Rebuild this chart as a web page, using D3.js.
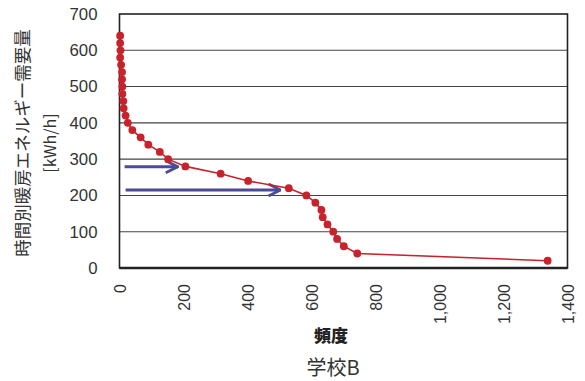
<!DOCTYPE html>
<meta charset="utf-8">
<style>
body { margin: 0; background: #fff; }
svg { font-family: "Liberation Sans", Arial, sans-serif; }
.jp { font-family: "Noto Sans CJK JP", sans-serif; }
</style>
<svg id="chart" width="585" height="381"></svg>
<script src="https://cdn.jsdelivr.net/npm/d3@7"></script>
<script>
// frequency (hours) vs hourly heating demand
var freq   = [2, 2, 3, 2, 5, 8, 8, 9, 9, 12, 13, 19, 26, 40, 66, 90, 126, 152, 206, 316, 402, 529, 584, 612, 631, 635, 650, 668, 680, 701, 743, 1338];
var demand = [640, 620, 600, 580, 560, 540, 520, 500, 480, 460, 440, 420, 400, 380, 360, 340, 320, 300, 280, 260, 240, 220, 200, 180, 160, 140, 120, 100, 80, 60, 40, 20];
var yTicks = [0, 100, 200, 300, 400, 500, 600, 700];
var xTicks = [0, 200, 400, 600, 800, 1000, 1200, 1400];
// annotation arrows: start, end, level
var arrowFrom  = [16, 19];
var arrowTo    = [182, 503];
var arrowLevel = [279, 215];

var svg = d3.select("#chart");
var plotL = 119.5, plotR = 567.5, plotT = 14, plotB = 268;

var x = d3.scaleLinear().domain([0, 1400]).range([plotL, plotR]);
var y = d3.scaleLinear().domain([0, 700]).range([plotB, plotT]);

// horizontal gridlines
svg.append("g").selectAll("line")
    .data(yTicks.slice(1, -1))
  .enter().append("line")
    .attr("x1", plotL).attr("x2", plotR)
    .attr("y1", function(d) { return y(d); })
    .attr("y2", function(d) { return y(d); })
    .attr("stroke", "#444").attr("stroke-width", 1.1);

// frame
svg.append("rect")
    .attr("x", plotL).attr("y", plotT)
    .attr("width", plotR - plotL).attr("height", plotB - plotT)
    .attr("fill", "none").attr("stroke", "#222").attr("stroke-width", 1.6);
svg.append("line")
    .attr("x1", plotL).attr("x2", plotR).attr("y1", plotB).attr("y2", plotB)
    .attr("stroke", "#222").attr("stroke-width", 2.4);

// y axis labels
var yAxis = svg.append("g")
    .attr("transform", "translate(" + plotL + ",0)")
    .call(d3.axisLeft(y).tickValues(yTicks).tickSize(0).tickPadding(22));
yAxis.select(".domain").remove();
yAxis.selectAll("text")
    .attr("font-size", 16.8).attr("fill", "#333")
    .attr("font-family", "Liberation Sans, Arial, sans-serif");

// x axis labels (rotated)
var xAxis = svg.append("g")
    .attr("transform", "translate(0," + plotB + ")")
    .call(d3.axisBottom(x).tickValues(xTicks).tickSize(0).tickFormat(d3.format(",")));
xAxis.select(".domain").remove();
xAxis.selectAll("text")
    .attr("font-size", 16).attr("fill", "#333")
    .attr("font-family", "Liberation Sans, Arial, sans-serif")
    .attr("text-anchor", "end")
    .attr("transform", "rotate(-90)")
    .attr("x", -16).attr("y", 0).attr("dy", "0.35em");

// arrows
svg.append("defs").append("marker")
    .attr("id", "head")
    .attr("viewBox", "0 0 14 14")
    .attr("refX", 13).attr("refY", 7)
    .attr("markerWidth", 14).attr("markerHeight", 14)
    .attr("markerUnits", "userSpaceOnUse")
    .attr("orient", "auto")
  .append("path")
    .attr("d", "M1,1 L13,7 L1,13")
    .attr("fill", "none").attr("stroke", "#4b4b96").attr("stroke-width", 2.8);

svg.append("g").selectAll("line")
    .data(arrowLevel)
  .enter().append("line")
    .attr("x1", function(d, i) { return x(arrowFrom[i]); })
    .attr("x2", function(d, i) { return x(arrowTo[i]); })
    .attr("y1", function(d) { return y(d); })
    .attr("y2", function(d) { return y(d); })
    .attr("stroke", "#4b4b96").attr("stroke-width", 3)
    .attr("marker-end", "url(#head)");

// curve
var pts = freq.map(function(f, i) { return [f, demand[i]]; });
svg.append("path")
    .datum(pts)
    .attr("fill", "none").attr("stroke", "#c8222c").attr("stroke-width", 1.6)
    .attr("d", d3.line().x(function(d) { return x(d[0]); }).y(function(d) { return y(d[1]); }));

svg.append("g").selectAll("circle")
    .data(pts)
  .enter().append("circle")
    .attr("cx", function(d) { return x(d[0]); })
    .attr("cy", function(d) { return y(d[1]); })
    .attr("r", 3.9)
    .attr("fill", "#c8222c");

// titles
svg.append("text").attr("class", "jp")
    .attr("transform", "translate(23,143) rotate(-90)")
    .attr("text-anchor", "middle").attr("dy", "0.35em")
    .attr("font-size", 17.5).attr("fill", "#333")
    .text("時間別暖房エネルギー需要量");
svg.append("text").attr("class", "jp")
    .attr("transform", "translate(50,143) rotate(-90)")
    .attr("text-anchor", "middle").attr("dy", "0.35em")
    .attr("font-size", 16).attr("fill", "#333")
    .text("[kWh/h]");
svg.append("text").attr("class", "jp")
    .attr("x", 331).attr("y", 336).attr("dy", "0.35em")
    .attr("text-anchor", "middle")
    .attr("font-size", 17).attr("font-weight", "900").attr("fill", "#222")
    .text("頻度");
svg.append("text").attr("class", "jp")
    .attr("x", 333).attr("y", 368).attr("dy", "0.35em")
    .attr("text-anchor", "middle")
    .attr("font-size", 20).attr("fill", "#333")
    .text("学校B");
</script>
